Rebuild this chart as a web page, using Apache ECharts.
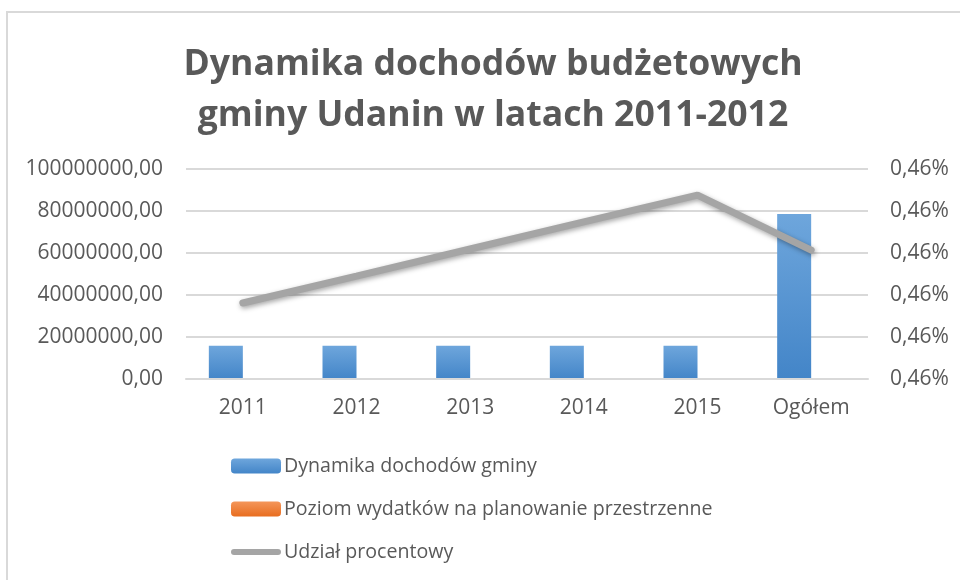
<!DOCTYPE html>
<html>
<head>
<meta charset="utf-8">
<script src="https://cdn.jsdelivr.net/npm/echarts@6/dist/echarts.min.js"></script>
<style>
  html, body { margin: 0; padding: 0; background: #fff; }
  #chart { width: 960px; height: 580px; }
</style>
</head>
<body>
<div id="chart"></div>
<script>
// values
var years = ['2011', '2012', '2013', '2014', '2015', 'Ogółem'];
var dochody = [15800000, 15800000, 15800000, 15800000, 15800000, 78600000];
var wydatki = [72700, 72700, 72700, 72700, 72700, 361000];
var udzial = [0.460362, 0.46049, 0.460619, 0.460748, 0.460876, 0.460614];

var txt = '#595959';
var font = 'Open Sans';

var chart = echarts.init(document.getElementById('chart'));

var option = {
    backgroundColor: '#fff',
    textStyle: { fontFamily: font },
    graphic: [{
        type: 'rect',
        shape: { x: 7, y: 12, width: 1000, height: 700 },
        style: { fill: 'none', stroke: '#d9d9d9', lineWidth: 2 },
        silent: true
    }],
    title: {
        text: 'Dynamika dochodów budżetowych\ngminy Udanin w latach 2011-2012',
        left: 488,
        textAlign: 'center',
        top: 34,
        textStyle: {
            fontFamily: font,
            fontWeight: 'bold',
            fontSize: 35.6,
            lineHeight: 51,
            color: txt
        }
    },
    legend: {
        orient: 'vertical',
        left: 231,
        top: 456,
        padding: 0,
        itemWidth: 50,
        itemHeight: 15,
        itemGap: 23,
        textStyle: { fontFamily: font, fontSize: 19.6, color: txt, lineHeight: 20, padding: [0, 0, 0, -2] },
        data: [
            { name: 'Dynamika dochodów gminy' },
            { name: 'Poziom wydatków na planowanie przestrzenne' },
            {
                name: 'Udział procentowy',
                icon: 'path://M3,0 L47,0 A3,3 0 0 1 47,6 L3,6 A3,3 0 0 1 3,0 Z',
                itemStyle: { color: '#a5a5a5' }
            }
        ]
    },
    grid: { left: 186, right: 92, top: 169, bottom: 201 },
    xAxis: {
        type: 'category',
        data: years,
        z: 3,
        axisLine: { lineStyle: { color: '#d9d9d9', width: 2 } },
        axisTick: { show: false },
        axisLabel: { color: txt, fontSize: 21, margin: 19 }
    },
    yAxis: [{
        type: 'value',
        min: 0,
        max: 100000000,
        interval: 20000000,
        axisLine: { show: false },
        axisTick: { show: false },
        splitLine: { lineStyle: { color: '#d9d9d9', width: 2 } },
        axisLabel: {
            color: txt, fontSize: 21, margin: 23,
            formatter: function (v) { return v.toFixed(2).replace('.', ','); }
        }
    }, {
        type: 'value',
        min: 0.46,
        max: 0.461,
        interval: 0.0002,
        axisLine: { show: false },
        axisTick: { show: false },
        splitLine: { show: false },
        axisLabel: {
            color: txt, fontSize: 21, margin: 22,
            formatter: function (v) { return v.toFixed(2).replace('.', ',') + '%'; }
        }
    }],
    series: [{
        name: 'Dynamika dochodów gminy',
        type: 'bar',
        barWidth: 34,
        barGap: '0%',
        itemStyle: {
            color: new echarts.graphic.LinearGradient(0, 0, 0, 1, [
                { offset: 0, color: '#6ea6dc' },
                { offset: 1, color: '#4385c8' }
            ]),
            shadowColor: 'rgba(0,0,0,0.35)',
            shadowBlur: 5,
            shadowOffsetX: 1,
            shadowOffsetY: 1
        },
        data: dochody
    }, {
        name: 'Poziom wydatków na planowanie przestrzenne',
        type: 'bar',
        barWidth: 34,
        itemStyle: {
            color: new echarts.graphic.LinearGradient(0, 0, 0, 1, [
                { offset: 0, color: '#f4965a' },
                { offset: 1, color: '#e86d1f' }
            ])
        },
        data: wydatki
    }, {
        name: 'Udział procentowy',
        type: 'line',
        yAxisIndex: 1,
        symbol: 'none',
        lineStyle: {
            color: '#a5a5a5',
            width: 7,
            cap: 'round',
            shadowColor: 'rgba(0,0,0,0.35)',
            shadowBlur: 5,
            shadowOffsetX: 1,
            shadowOffsetY: 2
        },
        itemStyle: { color: '#a5a5a5' },
        data: udzial
    }]
};

chart.setOption(option);
</script>
</body>
</html>
